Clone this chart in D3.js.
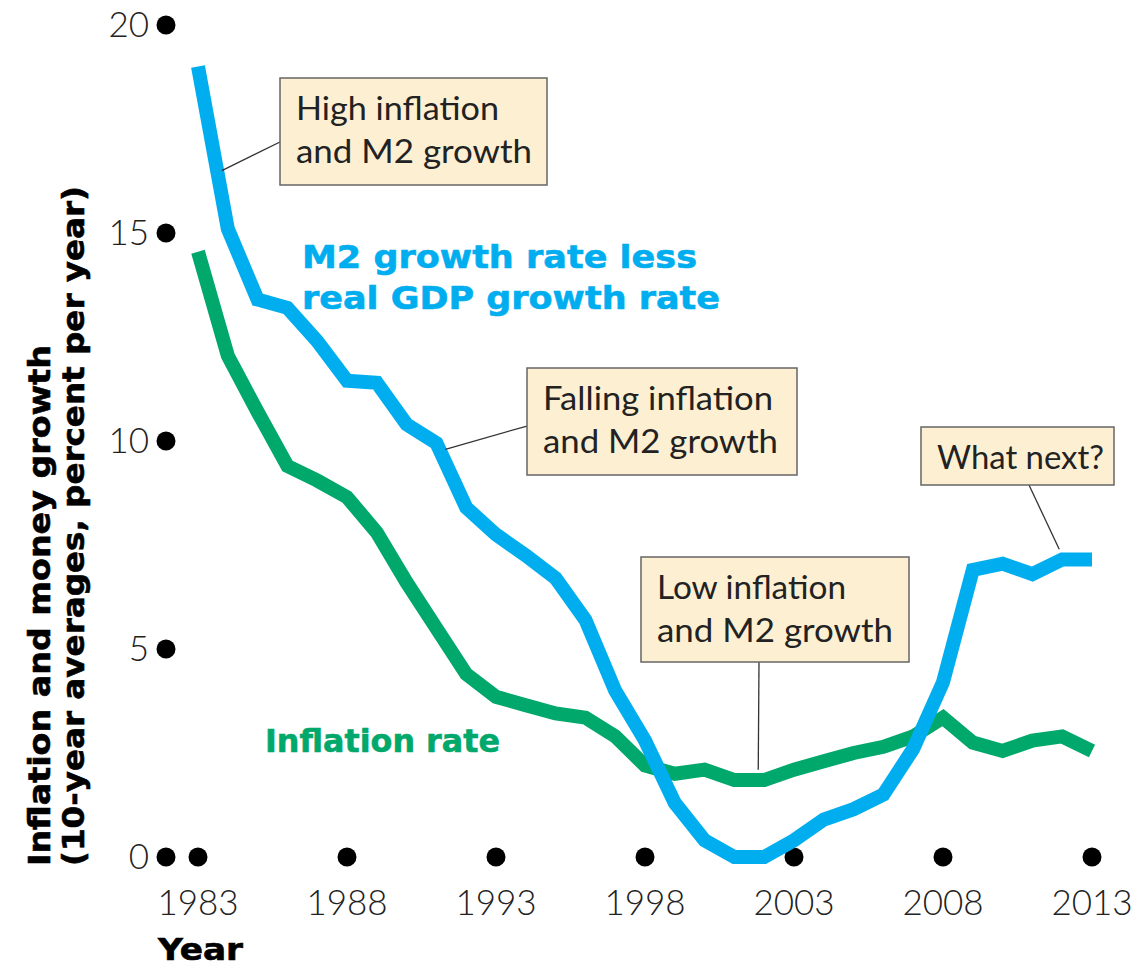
<!DOCTYPE html>
<html>
<head>
<meta charset="utf-8">
<script src="https://cdn.jsdelivr.net/npm/d3@7"></script>
<style>
  body { margin: 0; background: #fff; }
  svg { display: block; }
  text { font-family: "Lato", "Open Sans", sans-serif; }
  .bold { font-family: "DejaVu Sans", sans-serif; font-weight: bold; stroke-width: 0.6px; }
</style>
</head>
<body>
<div id="chart"></div>
<script>
/*
  inflation and money growth, 10-year averages, 1983-2013
*/

// data
var years = d3.range(1983, 2014);
var m2LessGdp = [19.0, 15.1, 13.4, 13.2, 12.4, 11.45, 11.4, 10.4, 9.95, 8.4,
                 7.75, 7.25, 6.7, 5.7, 4.0, 2.8, 1.3, 0.4, 0.0, 0.0,
                 0.4, 0.9, 1.15, 1.5, 2.6, 4.2, 6.9, 7.05, 6.8, 7.15, 7.15];
var inflation = [14.55, 12.05, 10.7, 9.4, 9.05, 8.65, 7.8, 6.6, 5.5, 4.4,
                 3.85, 3.65, 3.45, 3.35, 2.9, 2.2, 2.0, 2.1, 1.85, 1.85,
                 2.1, 2.3, 2.5, 2.65, 2.9, 3.35, 2.75, 2.55, 2.8, 2.9, 2.55];
var yTicks = [0, 5, 10, 15, 20];
var xTicks = [1983, 1988, 1993, 1998, 2003, 2008, 2013];

// callout boxes: text lines, box position, leader line end (year, value)
var notes = [
  {lines: ['High inflation', 'and M2 growth'], widths: [203, 236], box: [280, 78, 267, 107], from: [282, 141], to: [1983.8, 16.5]},
  {lines: ['Falling inflation', 'and M2 growth'], widths: [230, 235], box: [527, 368, 270, 107], from: [527, 426], to: [1991.3, 9.8]},
  {lines: ['Low inflation', 'and M2 growth'], widths: [189, 236], box: [641, 557, 268, 105], from: [759, 662], to: [2001.8, 2.1]},
  {lines: ['What next?'], widths: [167], box: [921, 427, 193, 58], from: [1029, 485], to: [2011.9, 7.4]}
];

var W = 1143, H = 966;
var blue = '#00aeef', green = '#00a86b';

var svg = d3.select('#chart').append('svg')
  .attr('width', W).attr('height', H);

var x = d3.scaleLinear().domain([1983, 2013]).range([198, 1092]);
var y = d3.scaleLinear().domain([0, 20]).range([857, 25]);

// stretch a text run to the width it has in the picture
function fit(sel, w) {
  return sel.attr('textLength', w).attr('lengthAdjust', 'spacingAndGlyphs');
}

// y axis dots + labels
svg.selectAll('.ydot').data(yTicks).enter().append('circle')
  .attr('cx', 166).attr('cy', function(d) { return y(d); })
  .attr('r', 9.5).attr('fill', '#000');
svg.selectAll('.ylab').data(yTicks).enter().append('text')
  .attr('x', 149).attr('y', function(d) { return y(d) + 12; })
  .attr('text-anchor', 'end')
  .style('font-size', '35px').style('font-weight', 300).attr('fill', '#222')
  .text(function(d) { return d; });

// x axis dots + labels
svg.selectAll('.xdot').data(xTicks).enter().append('circle')
  .attr('cx', function(d) { return x(d); }).attr('cy', y(0))
  .attr('r', 9.5).attr('fill', '#000');
svg.selectAll('.xlab').data(xTicks).enter().append('text')
  .attr('x', function(d) { return x(d); }).attr('y', 915)
  .attr('text-anchor', 'middle')
  .style('font-size', '35px').style('font-weight', 300).attr('fill', '#222')
  .text(function(d) { return d; });

fit(svg.append('text').attr('class', 'bold')
  .attr('x', 158).attr('y', 960)
  .style('font-size', '30px').attr('fill', '#000').attr('stroke', '#000')
  .text('Year'), 85);

// y axis title, two lines rotated
var yt = svg.append('text').attr('class', 'bold')
  .attr('transform', 'translate(50,866) rotate(-90)')
  .style('font-size', '30px').attr('fill', '#000').attr('stroke', '#000');
fit(yt.append('tspan').attr('x', 0).attr('y', 0).text('Inflation and money growth'), 521);
fit(yt.append('tspan').attr('x', 0).attr('y', 34).text('(10-year averages, percent per year)'), 680);

// lines
var line = function(vals) {
  return d3.line()
    .x(function(d, i) { return x(years[i]); })
    .y(function(d) { return y(d); })(vals);
};
svg.append('path').attr('d', line(inflation))
  .attr('fill', 'none').attr('stroke', green).attr('stroke-width', 14)
  .attr('stroke-linejoin', 'miter').attr('stroke-linecap', 'butt');
svg.append('path').attr('d', line(m2LessGdp))
  .attr('fill', 'none').attr('stroke', blue).attr('stroke-width', 14)
  .attr('stroke-linejoin', 'miter').attr('stroke-linecap', 'butt');

// series labels
var bl = svg.append('text').attr('class', 'bold')
  .attr('fill', blue).attr('stroke', blue)
  .style('font-size', '32px');
fit(bl.append('tspan').attr('x', 302).attr('y', 268).text('M2 growth rate less'), 395);
fit(bl.append('tspan').attr('x', 302).attr('y', 309).text('real GDP growth rate'), 418);

fit(svg.append('text').attr('class', 'bold')
  .attr('x', 265).attr('y', 752).attr('fill', green).attr('stroke', green)
  .style('font-size', '32px')
  .text('Inflation rate'), 235);

// callouts
notes.forEach(function(n) {
  svg.append('line')
    .attr('x1', n.from[0]).attr('y1', n.from[1])
    .attr('x2', x(n.to[0])).attr('y2', y(n.to[1]))
    .attr('stroke', '#333').attr('stroke-width', 1.3);
  svg.append('rect')
    .attr('x', n.box[0]).attr('y', n.box[1])
    .attr('width', n.box[2]).attr('height', n.box[3])
    .attr('fill', '#fdefd2').attr('stroke', '#666').attr('stroke-width', 1.5);
  var t = svg.append('text').attr('fill', '#222')
    .style('font-size', '33px').style('font-weight', 400);
  n.lines.forEach(function(s, i) {
    fit(t.append('tspan').attr('x', n.box[0] + 16)
      .attr('y', n.box[1] + 42 + i * 43).text(s), n.widths[i]);
  });
});
</script>
</body>
</html>
